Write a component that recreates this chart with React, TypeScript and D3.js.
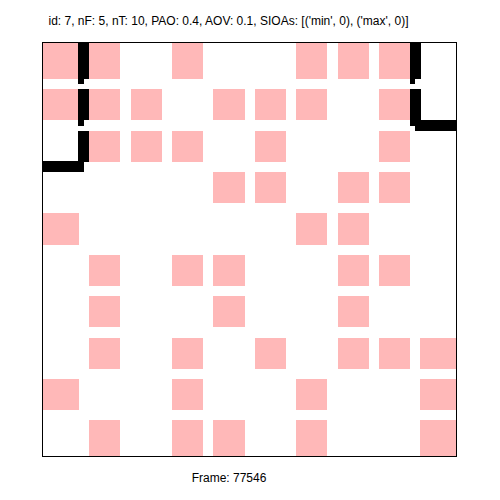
import React, { useEffect, useRef } from 'react';
import * as d3 from 'd3';

// grid size
const nCols = 10;
const nRows = 10;

// pink cells, one array of column indices per row
const pinkCells: number[][] = [
  [0, 1, 3, 6, 7, 8],
  [0, 1, 2, 4, 5, 6, 8],
  [1, 2, 3, 5, 8],
  [4, 5, 7, 8],
  [0, 6, 7],
  [1, 3, 4, 7, 8],
  [1, 4, 7],
  [1, 3, 5, 7, 8, 9],
  [0, 3, 6, 9],
  [1, 3, 4, 6, 9],
];

// black borders: vertical segments on a column boundary, one per row
const verticalEdges = [
  { col: 1, row: 0 },
  { col: 1, row: 1 },
  { col: 1, row: 2 },
  { col: 9, row: 0 },
  { col: 9, row: 1 },
];

// horizontal segments on a row boundary, one per column
const horizontalEdges = [
  { row: 3, col: 0 },
  { row: 2, col: 9 },
];

const title = "id: 7, nF: 5, nT: 10, PAO: 0.4, AOV: 0.1, SIOAs: [('min', 0), ('max', 0)]";
const footer = 'Frame: 77546';

export default function App() {
  const svgRef = useRef<SVGSVGElement>(null);

  useEffect(() => {
    if (!svgRef.current) return;
    const svg = d3.select(svgRef.current);
    svg.selectAll('*').remove();

    const width = 500;
    const height = 500;
    svg.attr('width', width).attr('height', height);

    const x = d3.scaleLinear().domain([0, nCols]).range([42.5, 456.5]);
    const y = d3.scaleLinear().domain([0, nRows]).range([42.5, 456.5]);

    const lo = 0.13;
    const hi = 0.88;
    const half = 5.5; // half the border thickness

    // cell extents (edge cells run to the frame)
    const x0 = (c: number) => (c === 0 ? x(0) : x(c + lo));
    const x1 = (c: number) => (c === nCols - 1 ? x(nCols) : x(c + hi));
    const y0 = (r: number) => (r === 0 ? y(0) : y(r + lo));
    const y1 = (r: number) => (r === nRows - 1 ? y(nRows) : y(r + hi));

    svg.append('rect')
      .attr('width', width)
      .attr('height', height)
      .attr('fill', '#ffffff');

    const cells = pinkCells.flatMap((cols, r) => cols.map(c => ({ r, c })));

    svg.append('g')
      .attr('shape-rendering', 'crispEdges')
      .selectAll('rect')
      .data(cells)
      .enter()
      .append('rect')
      .attr('x', d => x0(d.c))
      .attr('y', d => y0(d.r))
      .attr('width', d => x1(d.c) - x0(d.c))
      .attr('height', d => y1(d.r) - y0(d.r))
      .attr('fill', '#ffb8b8');

    const borders = svg.append('g')
      .attr('fill', '#000000')
      .attr('shape-rendering', 'crispEdges');

    // vertical borders: full width along the cell, left half down to the boundary
    verticalEdges.forEach(e => {
      const bx = x(e.col);
      borders.append('rect')
        .attr('x', bx - half)
        .attr('y', y0(e.row))
        .attr('width', half * 2)
        .attr('height', y1(e.row) - y0(e.row));
      borders.append('rect')
        .attr('x', bx - half)
        .attr('y', y1(e.row))
        .attr('width', half)
        .attr('height', y(e.row + 1) - y1(e.row) + 0.5);
    });

    horizontalEdges.forEach(e => {
      const by = y(e.row);
      borders.append('rect')
        .attr('x', x(e.col))
        .attr('y', by - half)
        .attr('width', x(e.col + 1) - x(e.col))
        .attr('height', half * 2);
    });

    // frame
    svg.append('rect')
      .attr('x', x(0))
      .attr('y', y(0))
      .attr('width', x(nCols) - x(0))
      .attr('height', y(nRows) - y(0))
      .attr('fill', 'none')
      .attr('stroke', '#000000')
      .attr('stroke-width', 1);

    svg.append('text')
      .attr('x', 228.5)
      .attr('y', 25)
      .attr('text-anchor', 'middle')
      .style('font-family', 'Liberation Sans, Arial, sans-serif')
      .style('font-size', '12px')
      .text(title);

    svg.append('text')
      .attr('x', 229)
      .attr('y', 482)
      .attr('text-anchor', 'middle')
      .style('font-family', 'Liberation Sans, Arial, sans-serif')
      .style('font-size', '12px')
      .text(footer);
  }, []);

  return (
    <svg ref={svgRef} style={{ position: 'absolute', left: 0, top: 0 }}></svg>
  );
}
